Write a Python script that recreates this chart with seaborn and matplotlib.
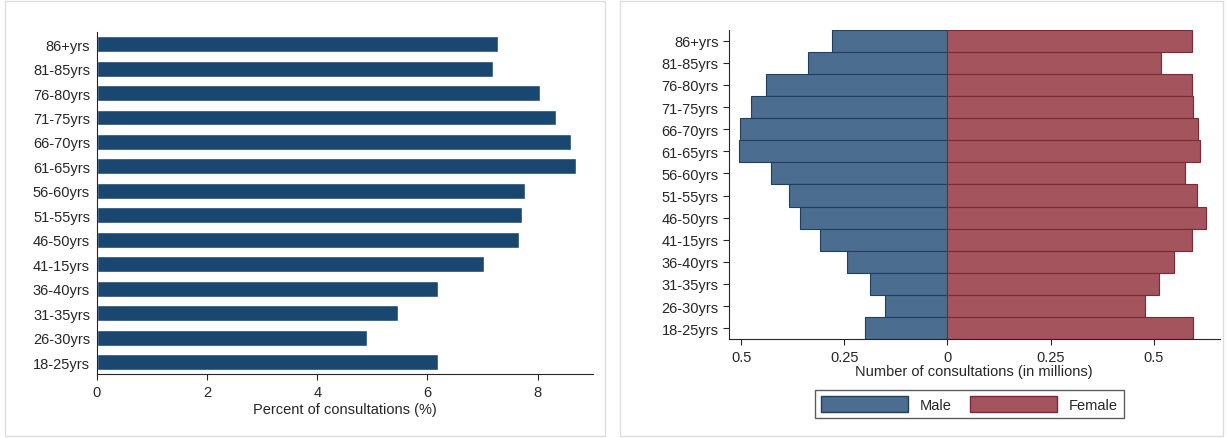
import numpy as np
import pandas as pd
import seaborn as sns
import matplotlib
matplotlib.use("Agg")
from matplotlib import pyplot as plt
from matplotlib.patches import Rectangle, Patch

ages = ["86+yrs", "81-85yrs", "76-80yrs", "71-75yrs", "66-70yrs", "61-65yrs", "56-60yrs",
        "51-55yrs", "46-50yrs", "41-15yrs", "36-40yrs", "31-35yrs", "26-30yrs", "18-25yrs"]
pct = [7.28, 7.19, 8.04, 8.33, 8.60, 8.69, 7.78, 7.71, 7.66, 7.02, 6.19, 5.47, 4.90, 6.19]
male = [0.279, 0.339, 0.440, 0.476, 0.502, 0.505, 0.428, 0.385, 0.358, 0.308, 0.243, 0.188, 0.151, 0.200]
female = [0.594, 0.519, 0.594, 0.596, 0.608, 0.613, 0.575, 0.606, 0.627, 0.594, 0.550, 0.514, 0.478, 0.596]

sns.set_style("white")
plt.rcParams["font.family"] = ["Liberation Sans", "DejaVu Sans"]
plt.rcParams["font.size"] = 10.5

fig = plt.figure(figsize=(12.27, 4.39), dpi=100)

# panel frames
for x0, w in [(0.004, 0.489), (0.505, 0.492)]:
    fig.patches.append(Rectangle((x0, 0.005), w, 0.99, transform=fig.transFigure,
                                 fill=False, edgecolor="#dddddd", lw=1))

# left panel
ax1 = fig.add_axes([0.079, 0.145, 0.404, 0.78])
df1 = pd.DataFrame({"age": ages, "pct": pct})
sns.barplot(data=df1, x="pct", y="age", color="#1a476f", saturation=1, width=0.65, ax=ax1)
ax1.set_xlim(0, 9.0)
ax1.set_xticks([0, 2, 4, 6, 8])
ax1.set_xlabel("Percent of consultations (%)", labelpad=2)
ax1.set_ylabel("")
for s in ["top", "right"]:
    ax1.spines[s].set_visible(False)
ax1.tick_params(axis="x", length=4, direction="out", bottom=True)
ax1.tick_params(axis="y", length=0, pad=5)

# right panel
ax2 = fig.add_axes([0.594, 0.225, 0.40, 0.705])
df2 = pd.DataFrame({"age": ages * 2, "val": [-m for m in male] + female,
                    "sex": ["Male"] * len(ages) + ["Female"] * len(ages)})
pal = {"Male": "#4b6d8f", "Female": "#a3545d"}
sns.barplot(data=df2, x="val", y="age", hue="sex", palette=pal, saturation=1,
            width=1.0, dodge=False, legend=False, ax=ax2)
for p in ax2.patches:
    p.set_edgecolor("#1f3f5f" if p.get_width() < 0 else "#7a2a35")
    p.set_linewidth(0.8)
ax2.set_xlim(-0.53, 0.66)
ax2.set_xticks([-0.5, -0.25, 0, 0.25, 0.5])
ax2.set_xticklabels(["0.5", "0.25", "0", "0.25", "0.5"])
ax2.set_xlabel("Number of consultations (in millions)", labelpad=0)
ax2.set_ylabel("")
for s in ["top", "right"]:
    ax2.spines[s].set_visible(False)
ax2.tick_params(axis="both", length=4, direction="out", left=True, bottom=True)
handles = [Patch(facecolor=pal["Male"], edgecolor="#1f3f5f", label="Male"),
           Patch(facecolor=pal["Female"], edgecolor="#7a2a35", label="Female")]
fig.legend(handles=handles, loc="lower center", bbox_to_anchor=(0.79, 0.03), ncol=2,
           frameon=True, fancybox=False, edgecolor="#333333", handlelength=6, handleheight=1.3,
           columnspacing=1.2)

fig.savefig("out.png", dpi=100)
